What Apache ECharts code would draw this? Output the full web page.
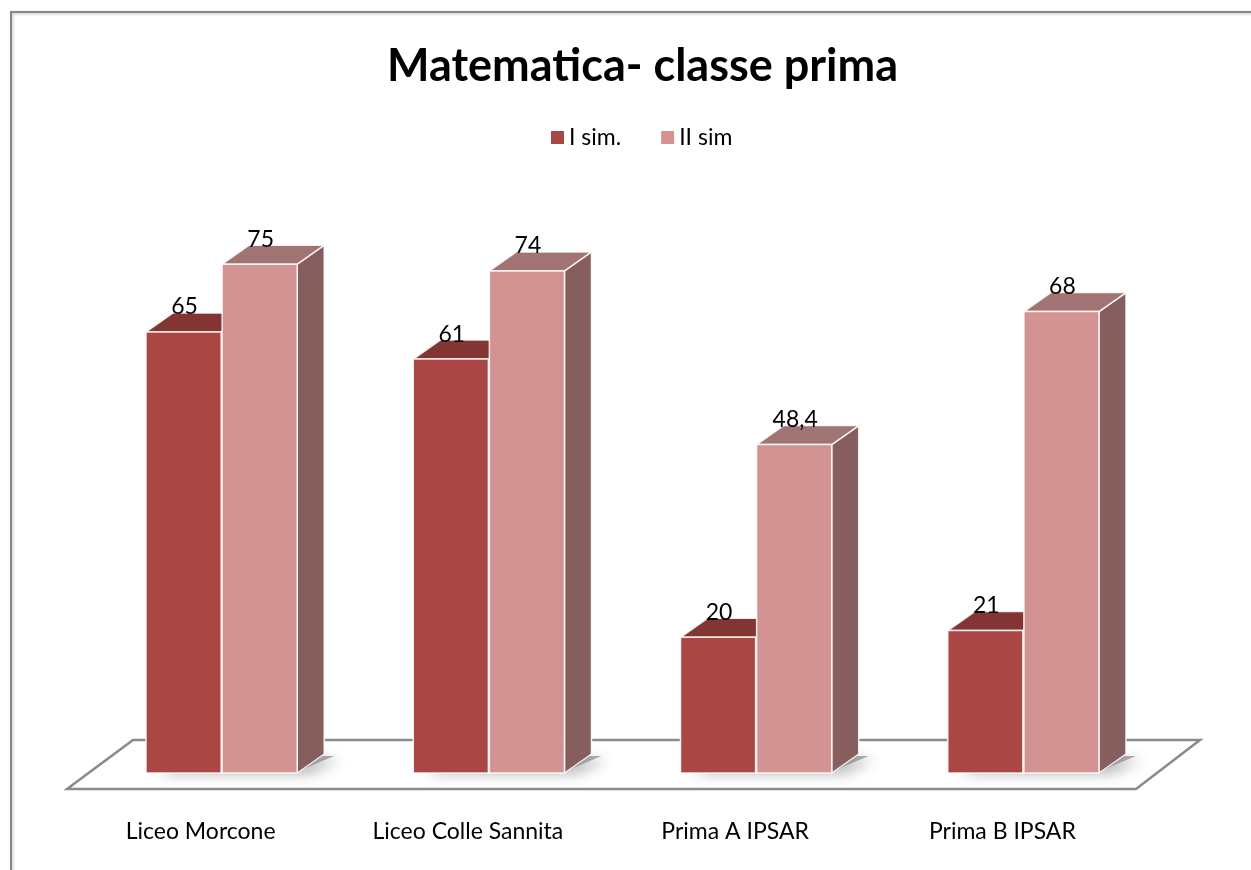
<!DOCTYPE html>
<html>
<head>
<meta charset="utf-8">
<script src="https://cdn.jsdelivr.net/npm/echarts@6/dist/echarts.min.js"></script>
<style>
html,body{margin:0;padding:0;background:#fff;}
#chart{width:1251px;height:870px;}
</style>
</head>
<body>
<div id="chart"></div>
<script>
// ---- data ----
const categories = ['Liceo Morcone', 'Liceo Colle Sannita', 'Prima A IPSAR', 'Prima B IPSAR'];
const seriesNames = ['I sim.', 'II sim'];
const valuesI = [65, 61, 20, 21];
const valuesII = [75, 74, 48.4, 68];
const titleText = 'Matematica- classe prima';

// ---- styles ----
const FONT = 'Lato, Carlito, "Open Sans", sans-serif';
const DEPTH = [27, -19];
const BAR_FRAC = 0.281;
const faceColors = [
  {front: '#AA4644', top: '#833533', side: '#6E2E2D'},
  {front: '#D39392', top: '#A27373', side: '#875E5E'}
];

function fmt(v) { return String(v).replace('.', ','); }

function barRenderer(sIdx) {
  return function (params, api) {
    const cat = api.value(0);
    const val = api.value(1);
    const top = api.coord([cat, val]);
    const base = api.coord([cat, 0]);
    const band = api.size([1, 0])[0];
    const w = band * BAR_FRAC;
    const cx = top[0];
    const x0 = sIdx === 0 ? cx - 1 - w : cx;
    const x1 = x0 + w;
    const yt = top[1], yb = base[1];
    const dx = DEPTH[0], dy = DEPTH[1];
    const c = faceColors[sIdx];
    const edge = {stroke: 'rgba(255,255,255,0.85)', lineWidth: 1.5, lineJoin: 'round'};
    return {
      type: 'group',
      children: [
        {type: 'polygon', shape: {points: [[x1, yt], [x1 + dx, yt + dy], [x1 + dx, yb + dy], [x1, yb]]},
         style: Object.assign({fill: c.side}, edge)},
        {type: 'polygon', shape: {points: [[x0, yt], [x1, yt], [x1 + dx, yt + dy], [x0 + dx, yt + dy]]},
         style: Object.assign({fill: c.top}, edge)},
        {type: 'rect', shape: {x: x0, y: yt, width: w, height: yb - yt},
         style: Object.assign({fill: c.front}, edge)},
        {type: 'text', x: (x0 + x1) / 2 + 1, y: yt - 25,
         style: {text: fmt(val), fill: '#000', font: '23px ' + FONT, align: 'center', verticalAlign: 'middle'}}
      ]
    };
  };
}

const chart = echarts.init(document.getElementById('chart'), null, {renderer: 'canvas'});

chart.setOption({
  backgroundColor: '#fff',
  animation: false,
  title: {
    text: titleText, left: 382, top: 39,
    textStyle: {fontFamily: FONT, fontWeight: 'bold', fontSize: 45, color: '#000'}
  },
  legend: {
    data: seriesNames.map((n, i) => ({name: n, itemStyle: {color: faceColors[i].front}})),
    top: 121, left: 546, itemWidth: 13, itemHeight: 13, itemGap: 40, icon: 'rect',
    textStyle: {fontFamily: FONT, fontSize: 23, color: '#000'}
  },
  graphic: [{
    type: 'rect', shape: {x: 11, y: 12, width: 1300, height: 900},
    style: {fill: 'none', stroke: '#888', lineWidth: 2, shadowBlur: 3, shadowColor: 'rgba(0,0,0,0.25)', shadowOffsetX: 1, shadowOffsetY: 1},
    z: -10, silent: true
  }],
  grid: [
    {left: 88.5, right: 93.5, top: 94.5, bottom: 97},
    {left: 67, right: 115, top: 94.5, bottom: 81}
  ],
  xAxis: [
    {type: 'category', data: categories, gridIndex: 0, show: false},
    {type: 'category', data: categories, gridIndex: 1,
     axisLine: {show: false}, axisTick: {show: false}, splitLine: {show: false},
     axisLabel: {margin: 31, fontFamily: FONT, fontSize: 23, color: '#000', interval: 0}}
  ],
  yAxis: [
    {type: 'value', min: 0, max: 100, gridIndex: 0, show: false},
    {type: 'value', min: 0, max: 100, gridIndex: 1, show: false}
  ],
  series: [
    {
      type: 'custom', name: 'floor', xAxisIndex: 0, yAxisIndex: 0, z: 1, silent: true,
      data: [[0, 0]],
      renderItem: function (params, api) {
        const cs = params.coordSys;
        const L = cs.x, R = cs.x + cs.width, B = cs.y + cs.height;
        return {
          type: 'polygon',
          shape: {points: [[L - 21.5, B + 16], [L + 44.5, B - 33], [R + 42.5, B - 33], [R - 21.5, B + 16]]},
          style: {fill: '#fff', stroke: '#8a8a8a', lineWidth: 2.5}
        };
      }
    },
    {
      type: 'custom', name: 'shadow', xAxisIndex: 0, yAxisIndex: 0, z: 2, silent: true,
      data: categories.map((c, i) => [i, 0]),
      renderItem: function (params, api) {
        const base = api.coord([api.value(0), 0]);
        const band = api.size([1, 0])[0];
        const w = band * BAR_FRAC;
        const x0 = base[0] - 1 - w, x1 = base[0] + w;
        const yb = base[1];
        return {
          type: 'polygon',
          shape: {points: [[x0 + 6, yb - 4], [x1 + 6, yb - 4], [x1 + DEPTH[0] + 10, yb + DEPTH[1] + 2], [x0 + DEPTH[0] + 6, yb + DEPTH[1] + 2]]},
          style: {fill: 'rgba(120,120,120,0.6)', shadowBlur: 14, shadowColor: 'rgba(0,0,0,0.55)', shadowOffsetX: 6, shadowOffsetY: 4}
        };
      }
    },
    {
      type: 'custom', name: seriesNames[0], xAxisIndex: 0, yAxisIndex: 0, z: 3,
      itemStyle: {color: faceColors[0].front},
      data: valuesI.map((v, i) => [i, v]),
      renderItem: barRenderer(0)
    },
    {
      type: 'custom', name: seriesNames[1], xAxisIndex: 0, yAxisIndex: 0, z: 3,
      itemStyle: {color: faceColors[1].front},
      data: valuesII.map((v, i) => [i, v]),
      renderItem: barRenderer(1)
    }
  ]
});
</script>
</body>
</html>
